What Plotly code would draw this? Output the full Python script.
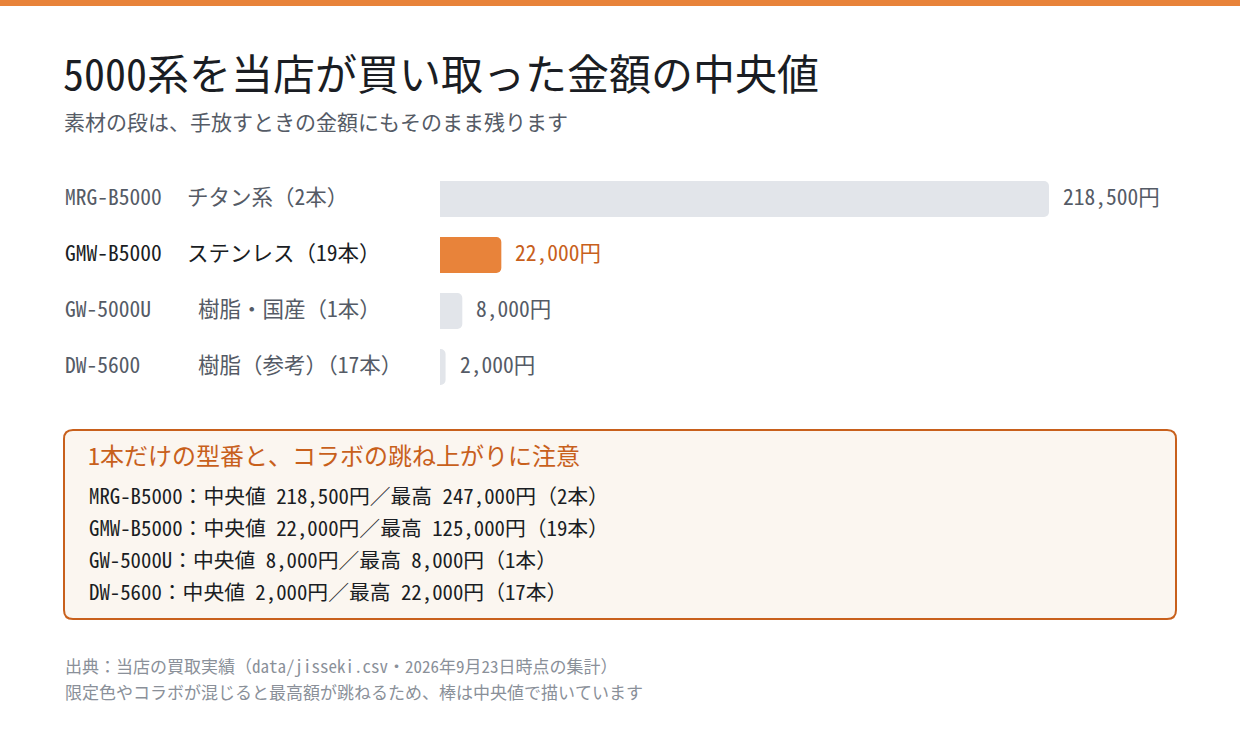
import plotly.graph_objects as go

W, H = 1240, 741
FONT = "'Noto Sans Mono CJK JP', 'Noto Sans CJK JP', sans-serif"

models = ["MRG-B5000", "GMW-B5000", "GW-5000U", "DW-5600"]
materials = ["チタン系", "ステンレス", "樹脂・国産", "樹脂（参考）"]
counts = [2, 19, 1, 17]
medians = [218500, 22000, 8000, 2000]
maxes = [247000, 125000, 8000, 22000]
highlight = "GMW-B5000"

ORANGE = "#e8833a"
ORANGE_DARK = "#c8601c"
GRAY_BAR = "#e2e5ea"
GRAY_TEXT = "#555b66"
DARK = "#1a1d23"


def px_x(v):
  return v / W


def px_y(v):
  return 1 - v / H


def round_rect(x0, y0, x1, y1, r):
  #rounded rectangle path in paper coords, from pixel box
  pts = [
    f"M {px_x(x0 + r)} {px_y(y0)}",
    f"L {px_x(x1 - r)} {px_y(y0)}",
    f"Q {px_x(x1)} {px_y(y0)} {px_x(x1)} {px_y(y0 + r)}",
    f"L {px_x(x1)} {px_y(y1 - r)}",
    f"Q {px_x(x1)} {px_y(y1)} {px_x(x1 - r)} {px_y(y1)}",
    f"L {px_x(x0 + r)} {px_y(y1)}",
    f"Q {px_x(x0)} {px_y(y1)} {px_x(x0)} {px_y(y1 - r)}",
    f"L {px_x(x0)} {px_y(y0 + r)}",
    f"Q {px_x(x0)} {px_y(y0)} {px_x(x0 + r)} {px_y(y0)} Z",
  ]
  return " ".join(pts)


def note(x, y, text, size, color):
  return dict(x=px_x(x), y=px_y(y), xref="paper", yref="paper", text=text, showarrow=False,
              xanchor="left", yanchor="middle", font=dict(size=size, color=color, family=FONT))


colors = [ORANGE if m == highlight else GRAY_BAR for m in models]

fig = go.Figure(go.Bar(
  x=medians, y=models, orientation="h", marker=dict(color=colors, line=dict(width=0)),
  width=0.643, hoverinfo="skip",
))

annotations = []
mat_x = [185, 185, 196, 196]
for i, (m, mat, n, med) in enumerate(zip(models, materials, counts, medians)):
  hi = m == highlight
  col = DARK if hi else GRAY_TEXT
  annotations.append(dict(x=px_x(63), y=m, xref="paper", yref="y", text=m, showarrow=False,
                          xanchor="left", yshift=4, font=dict(size=21.5, color=col, family=FONT)))
  annotations.append(dict(x=px_x(mat_x[i]), y=m, xref="paper", yref="y", text=f"{mat}（{n}本）",
                          showarrow=False, xanchor="left", yshift=4, font=dict(size=21.5, color=col, family=FONT)))
  annotations.append(dict(x=med, y=m, xref="x", yref="y", text=f"{med:,}円", showarrow=False,
                          xanchor="left", xshift=12, yshift=4,
                          font=dict(size=21.5, color=ORANGE_DARK if hi else GRAY_TEXT, family=FONT)))

# title / subtitle
annotations.append(note(61, 71, "5000系を当店が買い取った金額の中央値", 42, DARK))
annotations.append(note(62, 121, "素材の段は、手放すときの金額にもそのまま残ります", 21, GRAY_TEXT))

# callout
annotations.append(note(86, 454, "1本だけの型番と、コラボの跳ね上がりに注意", 24, ORANGE_DARK))
for i, (m, n, med, mx) in enumerate(zip(models, counts, medians, maxes)):
  annotations.append(note(87, 495 + 32 * i, f"{m}：中央値 {med:,}円／最高 {mx:,}円（{n}本）", 20.8, DARK))

# footer
annotations.append(note(63, 665, "出典：当店の買取実績（data/jisseki.csv・2026年9月23日時点の集計）", 17, "#8a9099"))
annotations.append(note(63, 691, "限定色やコラボが混じると最高額が跳ねるため、棒は中央値で描いています", 17, "#8a9099"))

shapes = [
  dict(type="rect", xref="paper", yref="paper", x0=0, x1=1, y0=px_y(6), y1=1,
       fillcolor=ORANGE, line=dict(width=0), layer="below"),
  dict(type="path", xref="paper", yref="paper", path=round_rect(64, 430, 1176, 619, 9),
       fillcolor="#fbf6f0", line=dict(color=ORANGE_DARK, width=2), layer="below"),
]

fig.update_layout(
  width=W, height=H, margin=dict(l=0, r=0, t=0, b=0),
  paper_bgcolor="white", plot_bgcolor="white",
  showlegend=False, barcornerradius=5,
  annotations=annotations, shapes=shapes,
  font=dict(family=FONT),
)
fig.update_xaxes(domain=[px_x(440), px_x(1049)], range=[0, max(medians)], visible=False, fixedrange=True)
fig.update_yaxes(domain=[px_y(395), px_y(171)], categoryorder="array", categoryarray=models[::-1],
                 visible=False, fixedrange=True)

fig.write_html("out.html", config=dict(displayModeBar=False),
               post_script="document.body.style.margin='0';")
